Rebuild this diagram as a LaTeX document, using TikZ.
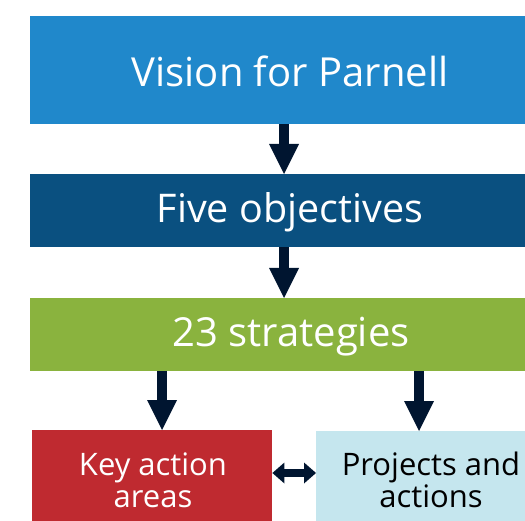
\documentclass[tikz,border=0pt]{standalone}
\usepackage{fontspec}
\setmainfont{Open Sans}
\usetikzlibrary{arrows.meta}
\definecolor{cvision}{HTML}{2088CB}
\definecolor{cfive}{HTML}{0A5080}
\definecolor{cgreen}{HTML}{8AB33E}
\definecolor{cred}{HTML}{BF2A30}
\definecolor{clight}{HTML}{C5E6EE}
\definecolor{carrow}{HTML}{001530}
\tikzset{
  box/.style={rectangle, draw=none, inner sep=0pt, anchor=north west},
  lbl/.style={inner sep=0pt, anchor=base, text=white},
  bigarrow/.style={draw=carrow, line width=10pt, -{Triangle[width=30pt,length=30pt,line width=0pt]}},
  duoarrow/.style={draw=carrow, line width=8pt, {Triangle[width=21pt,length=12pt,line width=0pt]}-{Triangle[width=21pt,length=12pt,line width=0pt]}},
}
\begin{document}
\begin{tikzpicture}[x=1pt,y=-1pt]
\useasboundingbox (0,0) rectangle (525,521);
\begin{scope}
\clip (0,0) rectangle (525,521);
\node[box, fill=cvision, minimum width=520pt, minimum height=108pt] (vision) at (30,16) {};
\node[box, fill=cfive, minimum width=520pt, minimum height=73pt] (five) at (30,174) {};
\node[box, fill=cgreen, minimum width=520pt, minimum height=73pt] (strat) at (30,298) {};
\node[box, fill=cred, minimum width=240pt, minimum height=95pt] (key) at (32,430) {};
\node[box, fill=clight, minimum width=230pt, minimum height=95pt] (proj) at (316,431) {};
\end{scope}
\node[lbl, font=\fontsize{40}{48}\selectfont] (tvision) at (290,87) {Vision for Parnell};
\node[lbl, font=\fontsize{39.5}{48}\selectfont] (tfive) at (290,223) {Five objectives};
\node[lbl, font=\fontsize{40}{48}\selectfont] (tstrat) at (291,347) {23 strategies};
\node[lbl, font=\fontsize{31}{32}\selectfont, align=center] (tkey) at (153,507) {Key action\\areas};
\node[lbl, font=\fontsize{31}{32}\selectfont, align=center, text=black] (tproj) at (431,507) {Projects and\\actions};
\coordinate (a1) at (284,124);
\coordinate (a2) at (284,247);
\coordinate (a3) at (162,371);
\coordinate (a4) at (419,371);
\draw[bigarrow] (a1) -- (a1 |- five.north);
\draw[bigarrow] (a2) -- (a2 |- strat.north);
\draw[bigarrow] (a3) -- (a3 |- key.north);
\draw[bigarrow] (a4) -- (a4 |- proj.north);
\draw[duoarrow] (key.east |- 0,473) -- (proj.west |- 0,473);
\end{tikzpicture}
\end{document}
